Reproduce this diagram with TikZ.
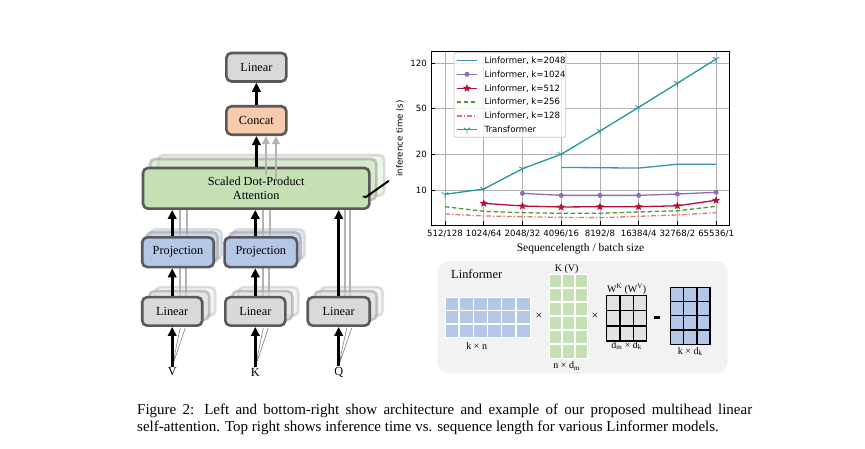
\documentclass[tikz,border=0pt]{standalone}
\usepackage{fontspec}
\setmainfont{Liberation Serif}
\newfontfamily\plotfont{DejaVu Sans}
\usepackage{xcolor}
\usepackage{tikz}
\usetikzlibrary{calc,arrows.meta,shapes.geometric}
\definecolor{edge}{HTML}{595959}
\definecolor{ghostedge}{HTML}{9A9A9A}
\definecolor{linfill}{HTML}{D9D9D9}
\definecolor{catfill}{HTML}{F8CBAD}
\definecolor{attfill}{HTML}{C5E0B4}
\definecolor{projfill}{HTML}{B4C7E7}
\definecolor{shade}{HTML}{B3B3B3}
\definecolor{gridc}{HTML}{B0B0B0}
\definecolor{tfc}{HTML}{23979A}
\definecolor{kA}{HTML}{3A8FC6}
\definecolor{kB}{HTML}{8A6BBE}
\definecolor{kC}{HTML}{B5103C}
\definecolor{kD}{HTML}{4E9A2E}
\definecolor{kE}{HTML}{E8747C}
\definecolor{panel}{HTML}{F2F2F2}
\definecolor{matgray}{HTML}{E2E2E2}
\tikzset{
  block/.style={draw=edge, line width=2.6pt, rounded corners=5pt, inner sep=0pt,
    align=center, font=\fontsize{12.3}{14.5}\selectfont},
  linbox/.style={block, fill=linfill, minimum width=60pt, minimum height=28.5pt},
  catbox/.style={block, fill=catfill, minimum width=60pt, minimum height=28.5pt},
  attbox/.style={block, fill=attfill, minimum width=226.4pt, minimum height=40.7pt},
  projbox/.style={block, fill=projfill, minimum width=71.5pt, minimum height=29.7pt},
  ghost/.style={draw=ghostedge, opacity=#1},
  ghost/.default=0.5,
  flow/.style={line width=2.6pt, -{Triangle[length=9pt,width=8.5pt]}},
  shadeline/.style={draw=shade, line width=2.2pt},
  shadeflow/.style={shadeline, -{Triangle[length=8pt,width=7.5pt]}},
  fan/.style={draw=gray, line width=0.6pt},
  inlab/.style={font=\fontsize{12.3}{14.5}\selectfont, inner sep=1pt},
  gridline/.style={draw=gridc, line width=0.8pt},
  axtick/.style={draw=black, line width=0.8pt},
  ticklab/.style={font=\plotfont\fontsize{8.6}{10}\selectfont, inner sep=0pt},
  curve/.style={line width=1.3pt, line join=round},
  dotmark/.style={circle, fill=kB, inner sep=0pt, minimum size=5pt},
  starmark/.style={star, star points=5, star point ratio=2.3, fill=kC, inner sep=0pt, minimum size=8.5pt},
  legendbox/.style={draw=gridc!70, fill=white, fill opacity=0.8, rounded corners=2pt, line width=0.7pt,
    minimum width=111.7pt, minimum height=84.6pt},
  legtext/.style={ticklab, anchor=west},
  matlab/.style={font=\fontsize{10}{11.5}\selectfont, inner sep=1pt},
  timeslab/.style={font=\fontsize{12}{13}\selectfont, inner sep=0pt},
  cellwhite/.style={draw=white, line width=1.6pt},
  cellblack/.style={draw=black, line width=1.2pt},
  captext/.style={anchor=base west, inner sep=0pt, font=\fontsize{15}{17}\selectfont},
}

\begin{document}
\begin{tikzpicture}[x=1pt, y=-1pt]
  \useasboundingbox (0,0) rectangle (865,448);

  % ---- multihead attention block ----
  % shaded lines of the other heads
  \draw[shadeline] ($(172.2,311.4)+(7.5,0)$) -- ++(0,-59) ($(172.2,311.4)+(13.5,0)$) -- ++(0,-59);
  \draw[shadeline] ($(255.3,311.4)+(7.5,0)$) -- ++(0,-59) ($(255.3,311.4)+(13.5,0)$) -- ++(0,-59);
  \draw[shadeline] ($(172.2,252.2)+(8,0)$) -- ++(0,-64) ($(172.2,252.2)+(14.5,0)$) -- ++(0,-64);
  \draw[shadeline] ($(255.3,252.2)+(8,0)$) -- ++(0,-64) ($(255.3,252.2)+(14.5,0)$) -- ++(0,-64);
  \draw[shadeline] ($(338.7,311.4)+(6.5,0)$) -- ++(0,-123) ($(338.7,311.4)+(11.5,0)$) -- ++(0,-123);

  % copies of the heads
  \foreach \dx/\dy/\op in {15/13/0.3, 7/9/0.55}{
    \node[attbox, ghost=\op, xshift=\dx pt, yshift=\dy pt] at (256.2,188.3) {};
  }
  \foreach \dx/\dy/\op in {8/8/0.3, 4/5/0.55}{
    \node[projbox, ghost=\op, xshift=\dx pt, yshift=\dy pt] at (178,252.2) {};
    \node[projbox, ghost=\op, xshift=\dx pt, yshift=\dy pt] at (260.8,252.2) {};
  }
  \foreach \dx/\dy/\op in {13/10/0.3, 7/6/0.55}{
    \node[linbox, ghost=\op, xshift=\dx pt, yshift=\dy pt] at (172.2,311.4) {};
    \node[linbox, ghost=\op, xshift=\dx pt, yshift=\dy pt] at (255.3,311.4) {};
    \node[linbox, ghost=\op, xshift=\dx pt, yshift=\dy pt, minimum width=62pt] at (338.7,311.4) {};
  }

  % inputs
  \node[inlab] (v) at (172.2,372) {V};
  \node[inlab] (k) at (255.3,372) {K};
  \node[inlab] (q) at (338.7,372) {Q};
  \foreach \n/\x in {v/172.2, k/255.3, q/338.7}{
    \draw[fan] (\n.north) -- (\x+8,328) (\n.north) -- (\x+13,328);
  }

  % front head
  \node[linbox] (lin1) at (172.2,311.4) {Linear};
  \node[linbox] (lin2) at (255.3,311.4) {Linear};
  \node[linbox, minimum width=62pt] (lin3) at (338.7,311.4) {Linear};
  \node[projbox] (proj1) at (178,252.2) {Projection};
  \node[projbox, minimum width=72.5pt] (proj2) at (260.8,252.2) {Projection};
  \node[attbox] (att) at (256.2,188.3) {Scaled Dot-Product\\Attention};
  \node[catbox] (concat) at (256.4,120.5) {Concat};
  \node[linbox] (lintop) at (256.4,67.2) {Linear};

  \draw[shadeflow] ($(concat.south |- att.north)+(9.5,8)$) -- ($(concat.south)+(9.5,0)$);
  \draw[shadeflow] ($(concat.south |- att.north)+(19.5,12)$) -- ($(concat.south)+(19.5,0)$);

  \draw[flow] (v) -- (lin1);
  \draw[flow] (k) -- (lin2);
  \draw[flow] (q) -- (lin3);
  \draw[flow] (lin1.north) -- (lin1.north |- proj1.south);
  \draw[flow] (lin2.north) -- (lin2.north |- proj2.south);
  \draw[flow] (lin1 |- proj1.north) -- (lin1 |- att.south);
  \draw[flow] (lin2 |- proj2.north) -- (lin2 |- att.south);
  \draw[flow] (lin3.north) -- (lin3 |- att.south);
  \draw[flow] (concat |- att.north) -- (concat.south);
  \draw[flow] (concat) -- (lintop);

  \draw[line width=2pt, line cap=round] (363.5,196.5) -- (366,197) -- (388.5,181); % heads

  % ---- inference time plot ----
  \begin{scope}[shift={(445,307)}, x=38.73pt, y=117pt]
    \coordinate (ax-sw) at (-0.35,0.701);
    \coordinate (ax-ne) at (7.35,2.182);
    \foreach \i in {0,...,7} \draw[gridline] (\i,0.701) -- (\i,2.182);
    \foreach \v in {10,20,50,120} \draw[gridline] (-0.35,{log10(\v)}) -- (7.35,{log10(\v)});
    \foreach \i in {0,...,7} \draw[axtick] (\i,0.701) -- ++(0,4pt);
    \foreach \v in {10,20,50,120}{
      \draw[axtick] (-0.35,{log10(\v)}) -- ++(4pt,0);
      \node[ticklab, anchor=east] at ([xshift=-4.5pt]-0.35,{log10(\v)}) {\v};
    }
    \foreach \lab [count=\i from 0] in {512/128,1024/64,2048/32,4096/16,8192/8,16384/4,32768/2,65536/1}
      \node[ticklab, anchor=north] at ([yshift=-5pt]\i,0.701) {\lab};

    % measured times (s)
    \foreach \v [count=\i from 0] in {9.19,10.2,15.2,20.2,31.9,50.9,81.7,131.7}
      \coordinate (tf\i) at (\i,{log10(\v)});
    \foreach \v [count=\i from 3] in {15.6,15.5,15.4,16.6,16.6}
      \coordinate (ka\i) at (\i,{log10(\v)});
    \foreach \v [count=\i from 2] in {9.37,9.0,9.0,9.0,9.24,9.56}
      \coordinate (kb\i) at (\i,{log10(\v)});
    \foreach \v [count=\i from 1] in {7.69,7.30,7.16,7.2,7.2,7.33,8.17}
      \coordinate (kc\i) at (\i,{log10(\v)});
    \foreach \v [count=\i from 0] in {7.2,6.58,6.40,6.32,6.32,6.49,6.65,7.25}
      \coordinate (kd\i) at (\i,{log10(\v)});
    \foreach \v [count=\i from 0] in {6.24,6.0,5.91,5.84,5.80,5.96,6.12,6.40}
      \coordinate (ke\i) at (\i,{log10(\v)});

    \draw[curve, kE, dash pattern=on 5pt off 2pt on 1.3pt off 2pt]
      (ke0) -- (ke1) -- (ke2) -- (ke3) -- (ke4) -- (ke5) -- (ke6) -- (ke7);
    \draw[curve, kD, dash pattern=on 4.5pt off 2.5pt]
      (kd0) -- (kd1) -- (kd2) -- (kd3) -- (kd4) -- (kd5) -- (kd6) -- (kd7);
    \draw[curve, kC] (kc1) -- (kc2) -- (kc3) -- (kc4) -- (kc5) -- (kc6) -- (kc7);
    \draw[curve, kB] (kb2) -- (kb3) -- (kb4) -- (kb5) -- (kb6) -- (kb7);
    \draw[curve, kA] (ka3) -- (ka4) -- (ka5) -- (ka6) -- (ka7);
    \draw[curve, tfc] (tf0) -- (tf1) -- (tf2) -- (tf3) -- (tf4) -- (tf5) -- (tf6) -- (tf7);
    \foreach \i in {1,...,7} \node[starmark] at (kc\i) {};
    \foreach \i in {2,...,7} \node[dotmark] at (kb\i) {};
    \foreach \i in {0,...,7}
      \draw[tfc, line width=0.8pt] (tf\i) -- ++(0,-3.8pt) (tf\i) -- ++(150:3.8pt) (tf\i) -- ++(30:3.8pt);

    \draw[line width=0.9pt] (ax-sw) rectangle (ax-ne);
  \end{scope}

  \node[ticklab, rotate=90] (ylab) at ($(ax-sw)!0.5!(ax-sw |- ax-ne)+(-31.5,0)$) {inference time (s)};
  \node[font=\fontsize{11.5}{13}\selectfont, inner sep=0pt] (xlab) at ($(ax-sw)!0.5!(ax-sw -| ax-ne)+(0,24)$)
    {Sequencelength / batch size};

  % legend
  \node[legendbox] (legend) at (509.9,95) {};
  \draw[curve, kA] (456.7,60.7) -- (477.3,60.7);
  \draw[curve, kB] (456.7,74.3) -- (477.3,74.3);
  \node[dotmark] at (467,74.3) {};
  \draw[curve, kC] (456.7,88.3) -- (477.3,88.3);
  \node[starmark] at (467,88.3) {};
  \draw[curve, kD, dash pattern=on 4.5pt off 2.5pt] (456.7,102) -- (477.3,102);
  \draw[curve, kE, dash pattern=on 5pt off 2pt on 1.3pt off 2pt] (456.7,116) -- (477.3,116);
  \draw[curve, tfc] (456.7,129.7) -- (477.3,129.7);
  \draw[tfc, line width=0.8pt] (467,129.7) -- ++(0,3.8) (467,129.7) -- ++(150:3.8pt) (467,129.7) -- ++(30:3.8pt);
  \node[legtext] (lg1) at (484.3,60.7) {Linformer, k=2048};
  \node[legtext] (lg2) at (484.3,74.3) {Linformer, k=1024};
  \node[legtext] (lg3) at (484.3,88.3) {Linformer, k=512};
  \node[legtext] (lg4) at (484.3,102) {Linformer, k=256};
  \node[legtext] (lg5) at (484.3,116) {Linformer, k=128};
  \node[legtext] (lg6) at (484.3,129.7) {Transformer};

  % ---- linformer example ----
  \fill[panel, rounded corners=12pt] (437.3,261) rectangle (727.7,373.3);
  \node[font=\fontsize{12.4}{14}\selectfont, inner sep=0pt] (lfname) at (476.7,274) {Linformer};

  \begin{scope}[shift={(445,297.3)}, x=14.17pt, y=-13.33pt]
    \fill[projfill] (0,0) rectangle (6,3);
    \foreach \c in {1,...,5} \draw[cellwhite] (\c,0) -- (\c,3);
    \foreach \r in {1,2} \draw[cellwhite] (0,\r) -- (6,\r);
    \draw[cellwhite, line width=0.8pt] (0,0) rectangle (6,3);
  \end{scope}
  \begin{scope}[shift={(549.3,274)}, x=12.8pt, y=-14.05pt]
    \fill[attfill] (0,0) rectangle (3,6);
    \foreach \c in {1,2} \draw[cellwhite] (\c,0) -- (\c,6);
    \foreach \r in {1,...,5} \draw[cellwhite] (0,\r) -- (3,\r);
    \draw[cellwhite, line width=0.8pt] (0,0) rectangle (3,6);
  \end{scope}
  \begin{scope}[shift={(606.7,295.7)}, x=13.33pt, y=-15.1pt]
    \fill[matgray] (0,0) rectangle (3,3);
    \foreach \c in {1,2} \draw[cellblack] (\c,0) -- (\c,3);
    \foreach \r in {1,2} \draw[cellblack] (0,\r) -- (3,\r);
    \draw[cellblack] (0,0) rectangle (3,3);
  \end{scope}
  \begin{scope}[shift={(670.7,287.3)}, x=13.1pt, y=-14.25pt]
    \fill[projfill] (0,0) rectangle (3,4);
    \foreach \c in {1,2} \draw[cellblack] (\c,0) -- (\c,4);
    \foreach \r in {1,2,3} \draw[cellblack] (0,\r) -- (3,\r);
    \draw[cellblack] (0,0) rectangle (3,4);
  \end{scope}

  \node[matlab] (eP) at (476.7,345.7) {k × n};
  \node[matlab] (eKV) at (566.7,269) {K (V)};
  \node[matlab] (eKVd) at (566.7,366) {n × d\textsubscript{m}};
  \node[matlab] (eW) at (626.7,289.3) {W\textsuperscript{K} (W\textsuperscript{V})};
  \node[matlab] (eWd) at (626.7,345.5) {d\textsubscript{m} × d\textsubscript{k}};
  \node[matlab] (eR) at (690.3,351.7) {k × d\textsubscript{k}};
  \node[timeslab] (t1) at (539,316.7) {×};
  \node[timeslab] (t2) at (595,316.7) {×};
  \fill (653.7,316) rectangle (659.7,318.8); % equals bar

  % ---- caption ----
  \node[captext] (cap1) at (137,414)
    {\makebox[615pt][s]{Figure 2: Left and bottom-right show architecture and example of our proposed multihead linear}};
  \node[captext] (cap2) at (137,431)
    {self-attention. Top right shows inference time vs. sequence length for various Linformer models.};
\end{tikzpicture}
\end{document}
